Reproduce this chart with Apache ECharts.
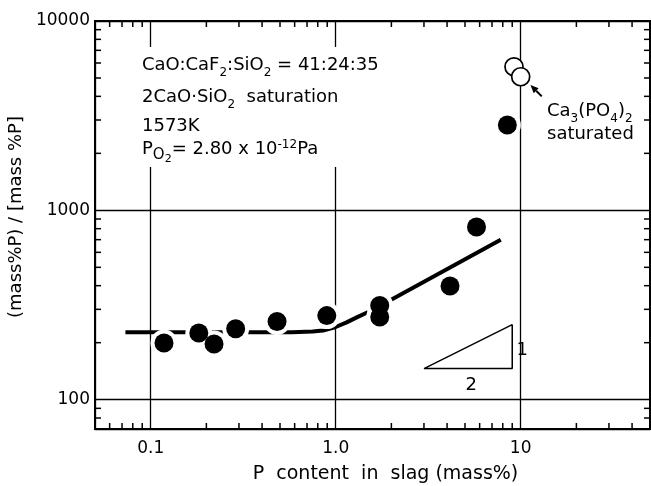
<!DOCTYPE html>
<html>
<head>
<meta charset="utf-8">
<script src="https://cdn.jsdelivr.net/npm/echarts@6/dist/echarts.min.js"></script>
<style>
  html, body { margin: 0; padding: 0; background: #fff; }
  #chart { width: 651px; height: 486px; }
</style>
</head>
<body>
<div id="chart"></div>
<script>
// measured points, 2CaO.SiO2 saturated
const pContent = [0.118, 0.182, 0.22, 0.288, 0.482, 0.895, 1.73, 1.73, 4.15, 5.77, 8.47];
const pRatio   = [199, 225, 197, 237, 259, 278, 314, 273, 398, 816, 2820];

// Ca3(PO4)2 saturated (open circles)
const satContent = [9.2, 10.0];
const satRatio   = [5730, 5075];

// calculated curve
const curveContent = [0.073, 0.3, 0.58, 0.75, 0.855, 1.0, 1.146, 1.3, 1.53, 2.04, 7.8];
const curveRatio   = [227, 227, 227, 229, 232, 242, 256, 272, 293, 341, 700];

// slope 1/2 triangle
const triContent = [3.0, 9.0, 9.0, 3.0];
const triRatio   = [146, 146, 249, 146];
const triLabels  = [['1', 10.2, 182], ['2', 5.4, 119]];

// arrow to the open circles: [tail, tip]
const arrowPts = [[13.0, 4000], [11.3, 4590]];

// log minor ticks
const xMinor = [0.06, 0.07, 0.08, 0.09, 0.2, 0.3, 0.4, 0.5, 0.6, 0.7, 0.8, 0.9,
                2, 3, 4, 5, 6, 7, 8, 9, 20, 30, 40];
const yMinor = [80, 90, 200, 300, 400, 500, 600, 700, 800, 900,
                2000, 3000, 4000, 5000, 6000, 7000, 8000, 9000];

const xLabels = { '-1': '0.1', '0': '1.0', '1': '10' };
const yLabels = { '2': '100', '3': '1000', '4': '10000' };

const FONT = 'DejaVu Sans';

function decadeLabel(map) {
  return function (v) {
    const e = Math.log10(v);
    const r = Math.round(e);
    if (Math.abs(e - r) < 1e-6 && map[String(r)]) return map[String(r)];
    return '';
  };
}

function tickX(params, api) {
  const cs = params.coordSys;
  const x = api.coord([api.value(0), 1000])[0];
  const st = { stroke: '#000', lineWidth: 1.5 };
  return {
    type: 'group',
    children: [
      { type: 'line', shape: { x1: x, y1: cs.y + cs.height, x2: x, y2: cs.y + cs.height - 6 }, style: st },
      { type: 'line', shape: { x1: x, y1: cs.y, x2: x, y2: cs.y + 6 }, style: st }
    ]
  };
}

function tickY(params, api) {
  const cs = params.coordSys;
  const y = api.coord([1, api.value(1)])[1];
  const st = { stroke: '#000', lineWidth: 1.5 };
  return {
    type: 'group',
    children: [
      { type: 'line', shape: { x1: cs.x, y1: y, x2: cs.x + 6, y2: y }, style: st },
      { type: 'line', shape: { x1: cs.x + cs.width, y1: y, x2: cs.x + cs.width - 6, y2: y }, style: st }
    ]
  };
}

// arrow: line from tail to tip with a filled head
function drawArrow(params, api) {
  if (params.dataIndex !== 0) return;
  const a = api.coord(arrowPts[0]);
  const b = api.coord(arrowPts[1]);
  const ang = Math.atan2(b[1] - a[1], b[0] - a[0]);
  const len = 8, half = 3.5;
  const bx = b[0] - len * Math.cos(ang), by = b[1] - len * Math.sin(ang);
  const nx = -Math.sin(ang) * half, ny = Math.cos(ang) * half;
  return {
    type: 'group',
    children: [
      { type: 'line', shape: { x1: a[0], y1: a[1], x2: bx, y2: by }, style: { stroke: '#000', lineWidth: 2 } },
      { type: 'polygon', shape: { points: [[b[0], b[1]], [bx + nx, by + ny], [bx - nx, by - ny]] }, style: { fill: '#000' } }
    ]
  };
}

const base = { fontSize: 18, fontFamily: FONT, fill: '#000', lineHeight: 32 };
const rich = {
  b: base,
  s: { fontSize: 12, fontFamily: FONT, fill: '#000', lineHeight: 12, padding: [16, 0, 0, 0] },
  o: { fontSize: 15, fontFamily: FONT, fill: '#000', lineHeight: 15, padding: [12, 0, 0, 0] },
  t: { fontSize: 11, fontFamily: FONT, fill: '#000', lineHeight: 11, padding: [20, 0, 0, 0] },
  u: { fontSize: 12, fontFamily: FONT, fill: '#000', lineHeight: 12, padding: [0, 0, 9, 0] }
};

function note(x, top, text) {
  return {
    type: 'text', left: x, top: top, z: 11,
    style: { text: text, rich: rich, fill: '#000', font: '18px ' + FONT }
  };
}

const chart = echarts.init(document.getElementById('chart'));

const option = {
  animation: false,
  backgroundColor: '#fff',
  grid: {
    left: 95, right: 1, top: 21, bottom: 57,
    outerBoundsMode: 'none', containLabel: false,
    show: true, borderColor: '#000', borderWidth: 2, backgroundColor: 'transparent'
  },
  xAxis: {
    type: 'log', logBase: 10, min: 0.05, max: 50,
    axisLine: { show: true, lineStyle: { color: '#000', width: 2 } },
    axisTick: { show: false },
    splitLine: { show: true, lineStyle: { color: '#000', width: 1.3 } },
    axisLabel: { formatter: decadeLabel(xLabels), color: '#000', fontSize: 17, fontFamily: FONT, margin: 11 },
    name: 'P  content  in  slag (mass%)',
    nameLocation: 'middle', nameGap: 36,
    nameTextStyle: { color: '#000', fontSize: 19, fontFamily: FONT, padding: [0, 0, 0, 26] }
  },
  yAxis: {
    type: 'log', logBase: 10, min: 70, max: 10000,
    axisLine: { show: true, lineStyle: { color: '#000', width: 2 } },
    axisTick: { show: false },
    splitLine: { show: true, lineStyle: { color: '#000', width: 1.3 } },
    axisLabel: { formatter: decadeLabel(yLabels), color: '#000', fontSize: 17, fontFamily: FONT, margin: 5 },
    name: '(mass%P) / [mass %P]',
    nameLocation: 'middle', nameGap: 63,
    nameTextStyle: { color: '#000', fontSize: 18, fontFamily: FONT, padding: [0, 0, 0, 16] }
  },
  graphic: [
    { type: 'rect', z: 10, shape: { x: 138, y: 47, width: 244, height: 120 }, style: { fill: '#fff' } },
    note(142, 51, '{b|CaO:CaF}{s|2}{b|:SiO}{s|2}{b| = 41:24:35}'),
    note(142, 83, '{b|2CaO·SiO}{s|2}{b|  saturation}'),
    note(142, 117, '{b|1573K}'),
    note(142, 134, '{b|P}{o|O}{t|2}{b|= 2.80 x 10}{u|-12}{b|Pa}'),
    note(547, 97, '{b|Ca}{s|3}{b|(PO}{s|4}{b|)}{s|2}'),
    note(547, 125, '{b|saturated}')
  ],
  series: [
    {
      type: 'custom', renderItem: tickX, clip: false, silent: true, z: 1,
      data: xMinor.map(v => [v, 1000])
    },
    {
      type: 'custom', renderItem: tickY, clip: false, silent: true, z: 1,
      data: yMinor.map(v => [1, v])
    },
    {
      type: 'line', smooth: false, showSymbol: false, symbol: 'none', z: 2,
      lineStyle: { color: '#000', width: 4, join: 'round' },
      data: curveContent.map((x, i) => [x, curveRatio[i]])
    },
    {
      // white halo around the points (the original drawing breaks lines there)
      type: 'scatter', symbolSize: 27, z: 3, silent: true,
      itemStyle: { color: '#fff', opacity: 1 },
      data: pContent.map((x, i) => [x, pRatio[i]])
    },
    {
      type: 'scatter', symbolSize: 19, z: 4,
      itemStyle: { color: '#000', opacity: 1 },
      data: pContent.map((x, i) => [x, pRatio[i]])
    },
    {
      type: 'scatter', symbolSize: 18, z: 4,
      itemStyle: { color: '#fff', borderColor: '#000', borderWidth: 1.7, opacity: 1 },
      data: satContent.map((x, i) => [x, satRatio[i]])
    },
    {
      type: 'custom', renderItem: drawArrow, clip: false, silent: true, z: 4,
      data: arrowPts
    },
    {
      type: 'line', symbol: 'none', z: 2,
      lineStyle: { color: '#000', width: 1.5 },
      data: triContent.map((x, i) => [x, triRatio[i]])
    },
    {
      type: 'scatter', symbolSize: 0, z: 5,
      itemStyle: { opacity: 1 },
      label: {
        show: true, position: 'inside', color: '#000', fontSize: 18, fontFamily: FONT,
        formatter: p => p.data[2]
      },
      data: triLabels.map(d => [d[1], d[2], d[0]])
    }
  ]
};

chart.setOption(option);
</script>
</body>
</html>
